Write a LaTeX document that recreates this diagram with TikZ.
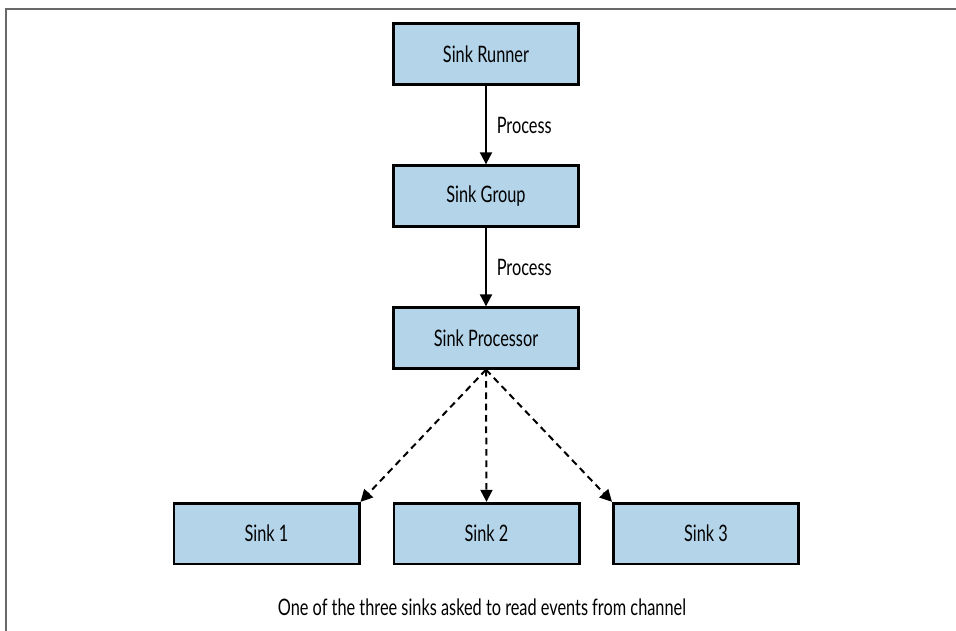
\documentclass[tikz,border=0pt]{standalone}
\usepackage{fontspec}
\setmainfont[FakeStretch=0.72]{Lato}
\usetikzlibrary{arrows.meta}

\tikzset{
  labelfont/.style={font=\fontsize{17}{19}\selectfont},
  stagebox/.style={draw=black, line width=2pt, fill=boxblue, minimum width=139pt, minimum height=45.5pt, inner sep=0pt, labelfont},
  callarrow/.style={line width=1.5pt, -{Triangle[length=9pt,width=9pt]}},
  pickarrow/.style={line width=1.5pt, dash pattern=on 5pt off 3.5pt, -{Triangle[length=9pt,width=9pt]}}
}
\definecolor{boxblue}{RGB}{180,212,234}
\definecolor{framegray}{RGB}{105,105,105}

\begin{document}
\begin{tikzpicture}[x=0.75pt,y=0.75pt,yscale=-1,xscale=1]
\useasboundingbox (0,0) rectangle (956,631);

%Frame
\draw [framegray, line width=1.5pt] (6,631) -- (6,9) -- (956,9) ;

%Boxes
\node [stagebox] (runner) at (486,54) {Sink Runner};
\node [stagebox] (group) at (486,196) {Sink Group};
\node [stagebox] (processor) at (486,338) {Sink Processor};
\node [stagebox] (sinkA) at (266.5,533.5) {Sink 1};
\node [stagebox] (sinkB) at (486.5,533.5) {Sink 2};
\node [stagebox] (sinkC) at (706,533.5) {Sink 3};

%Process calls
\draw [callarrow] (runner) -- (group) node [midway, anchor=west, xshift=4pt, labelfont] (callA) {Process};
\draw [callarrow] (group) -- (processor) node [midway, anchor=west, xshift=4pt, labelfont] (callB) {Process};

%Dashed picks
\draw [pickarrow] (processor.south) -- (sinkA.north east) ;
\draw [pickarrow] (processor.south) -- (sinkB.north) ;
\draw [pickarrow] (processor.south) -- (sinkC.north west) ;

% Caption
\node [labelfont] (caption) at (482,607) {One of the three sinks asked to read events from channel};

\end{tikzpicture}
\end{document}
